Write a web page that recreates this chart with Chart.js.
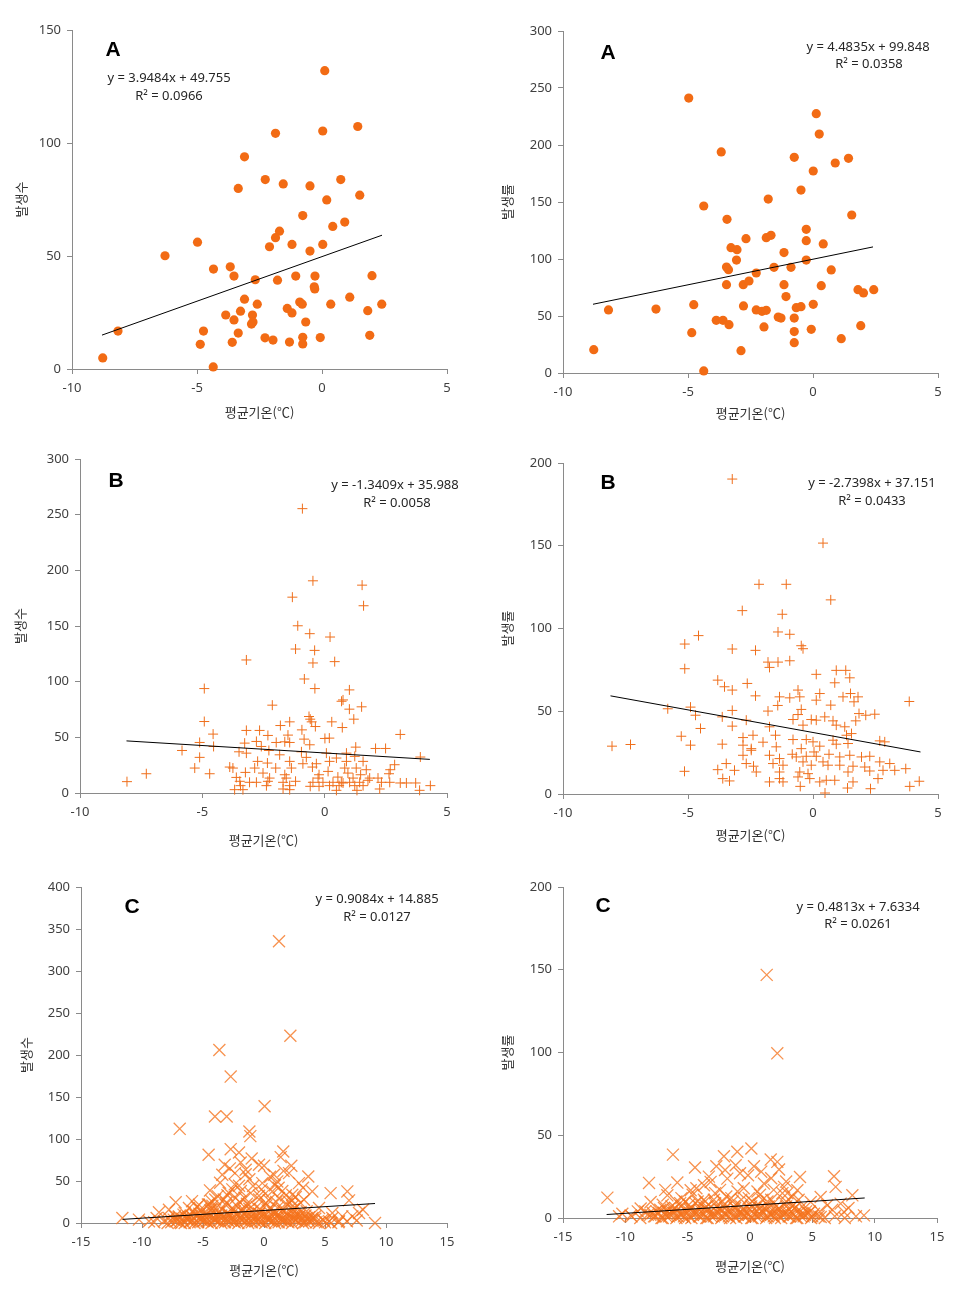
<!DOCTYPE html>
<html>
<head>
<meta charset="utf-8">
<script src="https://cdn.jsdelivr.net/npm/chart.js@4.4.1/dist/chart.umd.min.js"></script>
<style>
  body { margin: 0; background: #fff; width: 959px; height: 1292px; position: relative; overflow: hidden; }
</style>
</head>
<body>
<script>
// axis ranges
const xRangeAB = [-10, 5];
const xRangeC = [-15, 15];
const yRangeA1 = [0, 150];
const yRangeA2 = [0, 300];
const yRangeB1 = [0, 300];
const yRangeB2 = [0, 200];
const yRangeC1 = [0, 400];
const yRangeC2 = [0, 200];

// [평균기온, 발생수/발생률]
const pointsA1 = [
  [0.11,132],[0.03,105.3],[1.43,107.3],[-1.86,104.3],[-3.1,93.9],[-2.27,83.8],[-1.55,81.9],[-0.48,81.0],
  [0.75,83.8],[-3.35,79.9],[1.51,76.9],[0.19,74.8],[-0.77,67.9],[0.91,65.0],[0.43,63.1],[-1.7,61.0],
  [-1.86,58.1],[-2.1,54.1],[-1.2,55.1],[-0.48,52.2],[0.03,55.1],[-4.98,56.1],[-6.28,50.1],[-4.34,44.2],
  [-3.67,45.2],[-3.52,41.1],[-2.67,39.5],[-1.78,39.3],[-1.05,41.1],[-0.28,41.1],[2.0,41.3],[-0.31,36.4],
  [-0.29,35.4],[-3.1,30.9],[-2.59,28.7],[-3.26,25.6],[-3.85,23.9],[-3.52,21.7],[-2.78,23.9],[-2.82,19.9],
  [-2.76,20.8],[-1.39,26.8],[-1.2,24.8],[-0.89,29.6],[-0.79,28.7],[-0.65,20.8],[0.35,28.7],[1.11,31.8],
  [1.83,25.8],[2.39,28.7],[1.91,14.9],[-4.74,16.8],[-4.87,10.9],[-3.59,11.8],[-3.35,15.9],[-2.28,13.8],
  [-1.96,12.8],[-1.3,11.9],[-0.77,14.0],[-0.77,11.1],[-0.07,13.9],[-8.16,16.8],[-8.77,4.9],[-4.35,0.9]
];
const pointsA2 = [
  [-4.97,241.2],[0.13,227.5],[0.25,209.6],[-3.67,193.9],[-0.75,189.2],[1.42,188.3],[0.89,184.2],[0.01,177.2],
  [-0.48,160.5],[-1.79,152.6],[-4.37,146.5],[1.55,138.6],[-3.44,134.8],[-0.27,126.0],[-0.27,116.1],[-2.68,117.8],
  [-1.87,118.7],[-1.68,120.8],[0.41,113.2],[-3.28,109.9],[-3.04,108.2],[-1.16,105.6],[-3.06,99.1],[-0.27,99.1],
  [-3.46,93.0],[-3.38,90.6],[-1.56,92.7],[-0.88,92.7],[0.73,90.4],[-2.27,87.7],[-3.46,77.5],[-2.79,77.5],
  [-2.56,80.7],[-1.16,77.5],[0.33,76.6],[-1.08,67.0],[1.8,73.1],[2.02,70.2],[2.43,73.1],[-2.78,58.8],
  [-2.27,55.3],[-2.04,54.1],[-1.87,55.0],[-0.67,57.3],[-0.48,58.2],[0.01,60.2],[-4.77,59.9],[-6.28,56.1],
  [-8.18,55.3],[-3.87,46.2],[-3.6,46.2],[-3.36,42.4],[-1.96,40.4],[-1.39,49.1],[-1.28,48.2],[-0.75,48.2],
  [-0.75,36.3],[-0.07,38.3],[1.91,41.5],[-4.85,35.4],[-0.75,26.6],[1.13,30.1],[-2.88,19.6],[-8.77,20.5],
  [-4.37,1.8]
];
const pointsB1 = [
  [-0.91,255.4],[-0.48,190.6],[1.53,186.7],[1.59,168.2],[-1.32,175.9],[-1.1,150.2],[-0.61,143.1],[0.22,140.1],
  [-1.19,129.3],[-0.41,128.1],[-0.48,116.8],[0.41,118.0],[-3.2,119.5],[-0.83,102.4],[-4.92,93.8],[-0.4,93.8],
  [1.01,92.6],[0.75,83.6],[0.69,82.4],[1.01,75.3],[1.51,77.4],[-2.14,78.9],[1.19,66.3],[-0.64,68.7],
  [-0.59,66.3],[-0.53,63.9],[-4.92,64.2],[-1.43,63.9],[-1.81,60.6],[-0.93,56.7],[-0.38,59.7],[0.29,63.9],
  [0.72,58.8],[-3.2,56.2],[-2.66,56.2],[-4.56,52.9],[3.09,52.6],[-2.32,51.7],[-1.5,52.0],[-0.84,48.4],
  [0.01,49.0],[0.19,49.3],[-5.11,45.4],[-3.27,44.8],[-2.79,46.3],[-1.98,45.4],[-1.63,46.0],[-1.43,45.4],
  [-4.54,41.8],[-2.59,41.8],[-0.61,43.3],[1.27,41.2],[2.08,40.0],[2.49,40.0],[-5.83,38.2],[-3.5,37.0],
  [-3.2,35.8],[-2.28,38.2],[-1.84,34.3],[-0.95,37.0],[-0.75,32.0],[0.07,35.8],[0.48,31.4],[0.89,35.8],
  [1.23,32.9],[-5.11,32.0],[3.91,32.3],[-2.74,28.4],[-2.34,26.9],[-1.43,28.4],[-0.89,26.3],[-0.34,26.3],
  [0.2,28.4],[0.89,28.4],[1.57,28.4],[2.86,25.4],[-5.31,22.4],[-3.88,23.3],[-3.75,22.4],[-2.86,22.4],
  [-2.0,22.4],[-1.36,22.4],[-0.5,23.3],[0.82,22.4],[1.29,22.4],[1.7,20.9],[2.68,20.9],[-4.7,17.3],
  [-7.29,17.3],[-3.24,18.5],[-2.52,17.9],[-1.63,16.4],[-0.23,16.4],[0.14,19.4],[0.95,17.9],[1.47,16.4],
  [2.63,17.3],[-3.61,14.0],[-2.25,13.4],[-1.57,13.4],[-0.27,13.4],[0.54,14.3],[1.16,13.4],[1.84,13.4],
  [2.18,13.4],[-8.08,10.2],[-3.47,10.5],[-3.07,9.6],[-2.79,9.6],[-2.32,10.5],[-1.7,9.6],[-1.19,10.5],
  [-0.48,9.6],[-0.07,9.6],[0.34,9.6],[0.68,9.6],[1.02,9.6],[1.43,9.6],[1.77,11.4],[2.32,9.6],
  [2.66,9.6],[3.09,9.0],[3.34,9.0],[3.72,9.0],[-3.44,6.6],[-2.38,6.6],[-1.43,6.6],[-0.59,6.0],
  [-0.23,6.0],[0.2,6.6],[0.59,6.6],[1.23,6.6],[1.57,6.6],[4.32,6.6],[-3.68,3.0],[-3.34,3.0],
  [-1.7,3.6],[-1.43,3.0],[0.48,2.4],[1.32,2.4],[2.25,3.6],[3.88,2.4],[0.75,9.0]
];
const pointsB2 = [
  [-3.23,190.3],[0.4,151.6],[-2.16,126.7],[-1.07,126.7],[0.71,117.3],[-2.83,110.8],[-1.23,108.6],[-1.4,97.9],
  [-0.93,96.5],[-4.58,95.7],[-5.13,90.6],[-3.23,87.6],[-2.3,86.8],[-0.47,89.6],[-0.4,87.8],[-1.8,79.7],
  [-1.4,79.7],[-0.93,80.5],[-1.74,76.5],[-5.13,75.7],[0.13,72.3],[0.93,74.7],[1.31,74.7],[1.47,70.2],
  [0.87,67.2],[-3.81,68.8],[-3.54,64.8],[-3.23,62.8],[-2.63,66.8],[-2.3,59.3],[-1.34,58.7],[-0.93,58.1],
  [-0.6,62.8],[-0.53,58.7],[0.13,56.7],[0.27,60.7],[1.2,58.7],[1.5,60.7],[1.8,58.7],[1.64,55.7],
  [3.85,55.9],[-1.41,53.5],[0.71,53.7],[-5.81,51.5],[-4.9,52.5],[-4.7,47.6],[-3.23,50.5],[-1.8,50.1],
  [-0.6,48.0],[-0.47,51.1],[-0.07,45.0],[0.13,44.6],[0.47,46.6],[0.8,44.2],[1.84,48.6],[2.11,47.6],
  [2.47,48.2],[-3.63,46.6],[-3.23,41.0],[-2.67,44.6],[-1.74,40.6],[-0.8,45.0],[-0.4,41.6],[0.93,41.6],
  [1.27,40.6],[1.71,44.2],[-4.5,39.6],[-5.27,34.9],[-2.8,34.1],[-2.4,35.5],[-1.5,35.5],[-0.8,32.9],
  [-0.27,32.9],[0.0,31.5],[0.8,32.5],[1.34,35.5],[1.54,36.5],[2.67,32.1],[2.87,31.5],[-8.04,28.9],
  [-7.3,29.9],[-4.9,29.5],[-3.63,30.1],[-2.8,29.5],[-2.47,27.4],[-2.0,31.3],[-1.47,28.5],[-0.47,27.4],
  [0.27,28.9],[0.93,30.1],[1.4,30.5],[-2.8,23.4],[-2.47,26.4],[-1.74,23.4],[-1.34,21.4],[-0.83,24.0],
  [-0.67,22.4],[-0.27,22.8],[0.04,25.4],[0.13,22.8],[0.64,24.0],[1.07,22.4],[1.47,23.4],[1.94,22.4],
  [2.27,22.8],[-3.47,18.4],[-2.67,18.4],[-2.38,16.8],[-1.6,18.4],[-1.2,17.4],[-0.4,19.4],[-0.07,17.4],
  [0.4,19.4],[0.6,17.4],[1.07,17.4],[1.6,16.8],[2.07,16.3],[2.67,19.4],[3.07,18.4],[3.27,14.3],
  [3.71,15.3],[-5.14,13.7],[-3.81,14.7],[-3.14,14.3],[-2.27,13.3],[-1.34,13.3],[-0.53,13.3],[-0.2,12.3],
  [1.4,13.3],[2.27,13.9],[2.8,14.3],[-3.61,9.3],[-3.34,7.9],[-1.34,9.3],[-0.6,10.3],[-0.13,9.3],
  [0.53,8.3],[0.87,8.3],[2.6,9.3],[-1.74,7.3],[-1.2,7.3],[0.27,7.3],[1.6,7.3],[4.25,7.7],
  [3.87,4.6],[-0.51,4.6],[1.38,3.6],[2.3,3.2],[0.48,0.6]
];
const pointsC1 = [
  [1.23,335.4],[2.16,223.0],[-3.66,205.9],[-2.73,174.3],[0.05,139.0],[-4.02,126.7],[-3.06,126.7],[-6.91,112.1],
  [-1.2,108.9],[-1.12,103.4],[-4.54,81.2],[-2.73,87.9],[-2.05,84.0],[1.58,85.1],[1.37,78.4],[-1.01,76.8],
  [-3.22,69.3],[-1.91,72.1],[-0.41,69.3],[0.0,68.1],[2.24,68.1],[-3.42,57.4],[-2.38,59.4],[-1.5,63.4],
  [0.82,57.4],[2.05,59.4],[3.63,55.4],[-0.14,47.5],[1.09,49.5],[2.87,47.5],[-2.05,44.4],[-1.09,35.6],
  [-4.43,38.8],[0.68,37.6],[3.96,37.6],[5.46,35.6],[6.83,37.6],[-0.41,32.5],[2.32,33.7],[-7.24,24.6],
  [-2.32,29.7],[1.23,29.7],[3.28,27.7],[6.97,26.9],[8.11,15.8],[-11.61,5.9],[-10.25,4.0],[-8.61,12.7],
  [-7.79,15.8],[-6.15,17.8],[-5.33,21.8],[-4.23,20.6],[-3.14,21.8],[-1.23,21.8],[0.14,23.8],[2.32,19.8],
  [4.51,17.8],[5.6,11.9],[6.42,7.9],[7.24,7.9],[7.79,11.9],[9.1,0],[-9.43,2.0],[-6.97,7.9],
  [5.33,2.0],[6.15,2.0],[3.96,5.9],[2.87,7.9],
  [-8.2,2],[-7.6,1],[-7.1,3],[-6.5,0],[-6.0,2],[-5.4,1],[-4.9,3],[-4.3,0],[-3.8,2],[-3.2,1],[-2.7,3],[-2.1,0],
  [-1.6,2],[-1.0,1],[-0.5,3],[0.1,0],[0.6,2],[1.2,1],[1.7,3],[2.3,0],[2.8,2],[3.4,1],[3.9,3],[4.5,0],[5.0,1],
  [-7.8,6],[-7.3,8],[-6.7,5],[-6.2,7],[-5.6,9],[-5.1,6],[-4.5,8],[-4.0,5],[-3.4,7],[-2.9,9],[-2.3,6],[-1.8,8],
  [-1.2,5],[-0.7,7],[-0.1,9],[0.4,6],[1.0,8],[1.5,5],[2.1,7],[2.6,9],[3.2,6],[3.7,7],[4.2,5],
  [-6.5,12],[-5.8,14],[-5.0,11],[-4.4,15],[-3.7,13],[-3.0,12],[-2.4,14],[-1.7,16],[-1.0,13],[-0.4,11],[0.3,15],
  [1.0,12],[1.6,14],[2.3,11],[3.0,13],
  [-5.5,19],[-4.6,22],[-3.9,18],[-3.1,24],[-2.2,20],[-1.4,23],[-0.6,19],[0.2,21],[1.1,18],[1.9,22],[2.7,20],
  [-4.0,28],[-3.0,33],[-2.6,40],[-1.6,30],[-0.9,44],[0.4,27],[1.5,38],[2.6,31],[3.2,42],[-3.6,48],[-1.2,52],
  [0.9,45],[2.0,26],
  [-7.4,4],[-6.9,1],[-6.3,5],[-5.8,3],[-5.2,4],[-4.7,2],[-4.1,5],[-3.6,3],[-3.0,4],[-2.5,2],[-1.9,5],[-1.4,3],
  [-0.8,4],[-0.3,2],[0.3,5],[0.8,3],[1.4,4],[1.9,2],[2.5,5],[3.1,3],[3.6,4],
  [-6.6,10],[-6.0,9],[-5.3,11],[-4.7,10],[-4.1,12],[-3.5,9],[-2.9,11],[-2.2,10],[-1.6,12],[-1.0,9],[-0.4,11],
  [0.2,10],[0.8,12],[1.3,9],[1.9,11],[2.5,10],[3.4,9],
  [-5.2,16],[-4.3,17],[-3.4,16],[-2.6,18],[-1.9,15],[-1.2,17],[-0.3,16],[0.6,17],[1.5,15],[2.4,16],[3.5,14],
  [-4.3,26],[-3.3,28],[-2.0,25],[-0.4,28],[1.0,25],[2.3,27],[3.0,24],[-2.9,36],[-1.9,38],[0.1,35],[1.8,33],
  [-2.4,46],[-0.2,40],[1.2,42],[-3.8,32],[-1.5,58],[0.5,55],[1.6,62],[-2.8,65],[-4.5,22],[4.2,8],[4.8,4],
  [5.6,6],[-8.8,6],[-9.0,1],[6.8,2],[7.6,3],[-5.9,26],
  [-7.9,0],[-7.2,2],[-6.8,0],[-6.1,1],[-5.7,0],[-5.0,2],[-4.6,1],[-4.0,3],[-3.5,0],[-2.9,2],[-2.4,1],[-1.8,3],
  [-1.3,0],[-0.7,2],[-0.2,1],[0.4,3],[0.9,0],[1.5,2],[2.0,1],[2.6,3],[3.2,0],[3.7,2],[4.3,1],[4.9,3],[5.5,0],[6.1,1],
  [-7.0,7],[-6.4,6],[-5.9,8],[-5.3,6],[-4.8,7],[-4.2,6],[-3.7,8],[-3.1,6],[-2.6,7],[-2.0,6],[-1.5,8],[-0.9,6],
  [-0.4,7],[0.2,6],[0.7,8],[1.3,6],[1.8,7],[2.4,6],[2.9,8],[3.5,6]
];
const pointsC2 = [
  [1.34,146.9],[2.19,99.5],[-6.18,38.3],[0.11,42.0],[-1.02,40.0],[-2.09,37.3],[1.66,35.3],[2.19,33.9],
  [-4.41,30.5],[-2.7,31.3],[-1.15,31.9],[0.32,31.3],[2.33,29.3],[-0.16,25.8],[6.74,25.2],[4.01,24.8],
  [-8.1,21.2],[-5.83,21.4],[6.87,18.8],[-11.44,12.3],[8.21,13.7],[5.67,12.7],[-9.57,1.6],[-10.24,2.6],
  [9.14,1.6],[7.54,3.6],[5.13,2.6],[5.67,0.6],[-3.69,19.8],[-3.16,21.8],[-1.82,23.8],[1.12,20.8],
  [2.73,18.8],[3.8,16.8],[-4.76,16.8],[-6.63,13.7],[-7.97,9.7],[-8.77,5.7],[4.87,9.7],[6.2,7.7],[7.27,8.7],
  [-9.5,1],[-8.8,0],[-8.2,2],[-7.6,1],[-7.0,0],[-6.4,2],[-5.8,1],[-5.2,0],[-4.6,2],[-4.0,1],[-3.4,0],[-2.8,2],
  [-2.2,1],[-1.6,0],[-1.0,2],[-0.4,1],[0.2,0],[0.8,2],[1.4,1],[2.0,0],[2.6,2],[3.2,1],[3.8,0],[4.4,2],[5.0,1],
  [6.0,0],[6.8,1],[7.6,0],
  [-8.4,4],[-7.8,3],[-7.2,5],[-6.6,4],[-6.0,6],[-5.4,3],[-4.8,5],[-4.2,4],[-3.6,6],[-3.0,3],[-2.4,5],[-1.8,4],
  [-1.2,6],[-0.6,3],[0,5],[0.6,4],[1.2,6],[1.8,3],[2.4,5],[3.0,4],[3.6,6],[4.2,3],[4.8,4],
  [-7.0,8],[-6.3,7],[-5.6,9],[-4.9,8],[-4.2,10],[-3.5,7],[-2.8,9],[-2.1,8],[-1.4,10],[-0.7,7],[0,9],[0.7,8],
  [1.4,10],[2.1,7],[2.8,9],[3.5,8],[4.2,7],
  [-5.5,12],[-4.6,14],[-3.7,11],[-2.8,15],[-1.9,13],[-1.0,16],[-0.1,12],[0.8,14],[1.7,11],[2.6,15],[3.4,13],
  [-8.0,2],[-7.3,3],[-6.7,1],[-6.1,3],[-5.5,2],[-4.9,1],[-4.3,3],[-3.7,2],[-3.1,1],[-2.5,3],[-1.9,2],[-1.3,1],
  [-0.7,3],[-0.1,2],[0.5,1],[1.1,3],[1.7,2],[2.3,1],[2.9,3],[3.5,2],[4.1,1],[4.7,3],
  [-6.9,6],[-6.2,5],[-5.5,7],[-4.8,6],[-4.1,7],[-3.4,5],[-2.7,7],[-2.0,6],[-1.3,7],[-0.6,5],[0.1,7],[0.8,6],
  [1.5,7],[2.2,5],[2.9,7],[3.6,6],
  [-5.2,10],[-4.4,9],[-3.6,10],[-2.9,11],[-2.2,10],[-1.5,12],[-0.7,11],[0.2,10],[1.0,11],[1.9,9],[2.9,10],[3.9,11],
  [-4.3,18],[-2.4,17],[-0.5,18],[0.6,16],[1.9,17],[3.0,15],[-3.3,25],[-0.8,27],[1.7,24],[-2.0,29],[0.9,28],
  [2.9,22],[-6.8,17],[-9.0,4],[-10.5,1],[5.6,4],[6.6,5],[7.9,6],[8.5,1],[-5.9,10],
  [-7.7,1],[-7.1,0],[-6.5,1],[-5.9,0],[-5.3,1],[-4.7,0],[-4.1,1],[-3.5,0],[-2.9,1],[-2.3,0],[-1.7,1],[-1.1,0],
  [-0.5,1],[0.1,0],[0.7,1],[1.3,0],[1.9,1],[2.5,0],[3.1,1],[3.7,0],[4.3,1],[4.9,0],[5.5,1],
  [-7.5,4],[-6.9,3],[-6.3,4],[-5.7,3],[-5.1,4],[-4.5,3],[-3.9,4],[-3.3,3],[-2.7,4],[-2.1,3],[-1.5,4],[-0.9,3],
  [-0.3,4],[0.3,3],[0.9,4],[1.5,3],[2.1,4],[2.7,3],[3.3,4],[3.9,3],[4.5,4]
];

// linear trend end points
const trendA1 = [[-8.8, 15.0], [2.4, 59.2]];
const trendA2 = [[-8.8, 60.3], [2.4, 110.6]];
const trendB1 = [[-8.1, 46.8], [4.3, 30.2]];
const trendB2 = [[-8.1, 59.3], [4.3, 25.4]];
const trendC1 = [[-11.6, 4.3], [9.1, 23.2]];
const trendC2 = [[-11.5, 2.1], [9.2, 12.1]];

const eqA1 = ['y = 3.9484x + 49.755', 'R² = 0.0966'];
const eqA2 = ['y = 4.4835x + 99.848', 'R² = 0.0358'];
const eqB1 = ['y = -1.3409x + 35.988', 'R² = 0.0058'];
const eqB2 = ['y = -2.7398x + 37.151', 'R² = 0.0433'];
const eqC1 = ['y = 0.9084x + 14.885', 'R² = 0.0127'];
const eqC2 = ['y = 0.4813x + 7.6334', 'R² = 0.0261'];

const xTitle = '평균기온(℃)';
const ORANGE = '#f26b14';

const markers = {
  dot:   { pointStyle: 'circle', pointRadius: 4.6, pointBackgroundColor: ORANGE, pointBorderColor: ORANGE, pointBorderWidth: 0 },
  plus:  { pointStyle: 'cross', pointRadius: 5, pointBorderColor: '#ef6f1c', pointBorderWidth: 1 },
  xmark: { pointStyle: 'crossRot', pointRadius: 8.5, pointBorderColor: 'rgba(245,115,30,0.78)', pointBorderWidth: 1.3 }
};

// box = [plot left, plot right, plot top, plot bottom] in page pixels
const panels = [
  { pts: pointsA1, trend: trendA1, x: xRangeAB, y: yRangeA1, yTitle: '발생수', mk: 'dot',
    box: [72, 447, 30, 369], yw: 59, xh: 51,
    notes: [['A', 113, 50, 1], [eqA1[0], 169, 78], [eqA1[1], 169, 96.5]] },
  { pts: pointsA2, trend: trendA2, x: xRangeAB, y: yRangeA2, yTitle: '발생률', mk: 'dot',
    box: [563, 938, 31, 373], yw: 64, xh: 48,
    notes: [['A', 608, 53, 1], [eqA2[0], 868, 47], [eqA2[1], 869, 64]] },
  { pts: pointsB1, trend: trendB1, x: xRangeAB, y: yRangeB1, yTitle: '발생수', mk: 'plus',
    box: [80, 447, 459, 793], yw: 68, xh: 55,
    notes: [['B', 116, 481, 1], [eqB1[0], 395, 485], [eqB1[1], 397, 503]] },
  { pts: pointsB2, trend: trendB2, x: xRangeAB, y: yRangeB2, yTitle: '발생률', mk: 'plus',
    box: [563, 938, 463, 794], yw: 64, xh: 49,
    notes: [['B', 608, 483, 1], [eqB2[0], 872, 483], [eqB2[1], 872, 501]] },
  { pts: pointsC1, trend: trendC1, x: xRangeC, y: yRangeC1, yTitle: '발생수', mk: 'xmark',
    box: [81, 447, 887, 1223], yw: 63, xh: 55,
    notes: [['C', 132, 907, 1], [eqC1[0], 377, 899], [eqC1[1], 377, 917]] },
  { pts: pointsC2, trend: trendC2, x: xRangeC, y: yRangeC2, yTitle: '발생률', mk: 'xmark',
    box: [563, 937, 887, 1218], yw: 64, xh: 56,
    notes: [['C', 603, 906, 1], [eqC2[0], 858, 907], [eqC2[1], 858, 924]] }
];

const notesPlugin = {
  id: 'notes',
  afterDraw(chart, args, opts) {
    const ctx = chart.ctx;
    ctx.save();
    ctx.textAlign = 'center';
    ctx.textBaseline = 'middle';
    opts.items.forEach(n => {
      ctx.fillStyle = n[3] ? '#000' : '#262626';
      ctx.font = n[3] ? 'bold 21px "Liberation Sans", Arial, sans-serif' : '13px "Noto Sans", sans-serif';
      ctx.fillText(n[0], n[1] - opts.left, n[2] - opts.top);
    });
    ctx.restore();
  }
};

const axisColor = '#8a8a8a';
const tickFont = { family: '"Noto Sans", sans-serif', size: 13 };
const titleFont = { family: '"Noto Sans CJK KR", "Noto Sans", sans-serif', size: 13 };

panels.forEach(p => {
  const [x0, x1, y0, y1] = p.box;
  const left = x0 - p.yw - 2, top = y0 - 14;
  const w = x1 + 24 - left, h = y1 + p.xh + 2 - top;
  const cv = document.createElement('canvas');
  cv.width = w; cv.height = h;
  cv.style.cssText = `position:absolute;left:${left}px;top:${top}px;width:${w}px;height:${h}px`;
  document.body.appendChild(cv);

  new Chart(cv, {
    type: 'scatter',
    data: {
      datasets: [
        { data: p.trend.map(d => ({ x: d[0], y: d[1] })), showLine: true, borderColor: '#000',
          borderWidth: 1, pointRadius: 0, clip: false },
        Object.assign({ data: p.pts.map(d => ({ x: d[0], y: d[1] })), clip: false }, markers[p.mk])
      ]
    },
    options: {
      responsive: false,
      animation: false,
      layout: { padding: { left: 2, top: 14, right: 24, bottom: 2 } },
      plugins: {
        legend: { display: false },
        tooltip: { enabled: false },
        notes: { items: p.notes, left: left, top: top }
      },
      scales: {
        x: {
          type: 'linear', min: p.x[0], max: p.x[1],
          ticks: { stepSize: 5, color: '#404040', font: tickFont, padding: 6, maxRotation: 0 },
          grid: { drawOnChartArea: false, drawTicks: true, tickLength: 5, color: axisColor },
          border: { color: axisColor, width: 1 },
          title: { display: true, text: xTitle, font: titleFont, color: '#333', padding: 0 },
          afterFit: s => { s.height = p.xh; }
        },
        y: {
          type: 'linear', min: p.y[0], max: p.y[1],
          ticks: { stepSize: 50, color: '#404040', font: tickFont, padding: 6 },
          grid: { drawOnChartArea: false, drawTicks: true, tickLength: 5, color: axisColor },
          border: { color: axisColor, width: 1 },
          title: { display: true, text: p.yTitle, font: titleFont, color: '#333', padding: 0 },
          afterFit: s => { s.width = p.yw; }
        }
      }
    },
    plugins: [notesPlugin]
  });
});
</script>
</body>
</html>
